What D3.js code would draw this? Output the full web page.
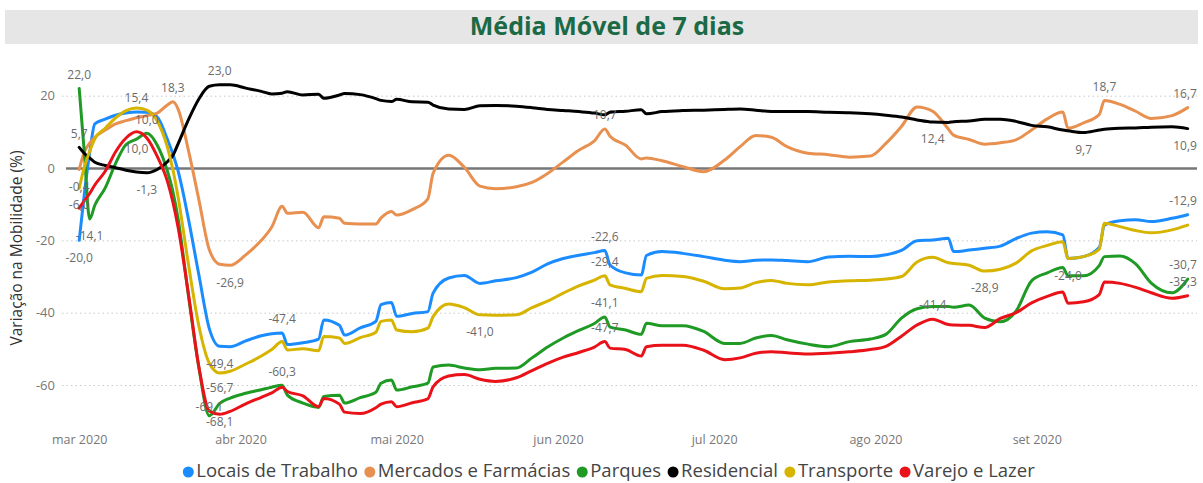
<!DOCTYPE html>
<html>
<head>
<meta charset="utf-8">
<script src="https://cdn.jsdelivr.net/npm/d3@7"></script>
<style>
  body { margin: 0; background: #fff; }
  text { font-family: "Segoe UI", "Open Sans", sans-serif; }
</style>
</head>
<body>
<svg id="chart" width="1203" height="483"></svg>
<script>
const dates = [
  "2020-03-01","2020-03-02","2020-03-03","2020-03-04","2020-03-06","2020-03-08","2020-03-10","2020-03-12","2020-03-14","2020-03-16",
  "2020-03-18","2020-03-19","2020-03-20","2020-03-22","2020-03-24","2020-03-26","2020-03-28","2020-03-30","2020-04-02","2020-04-05",
  "2020-04-07","2020-04-09","2020-04-10","2020-04-13","2020-04-16","2020-04-17","2020-04-20","2020-04-21","2020-04-24","2020-04-27",
  "2020-04-28","2020-04-30","2020-05-01","2020-05-04","2020-05-07","2020-05-08","2020-05-11","2020-05-14","2020-05-17","2020-05-20",
  "2020-05-24","2020-05-27","2020-05-30","2020-06-02","2020-06-05","2020-06-08","2020-06-10","2020-06-11","2020-06-14","2020-06-17",
  "2020-06-18","2020-06-21","2020-06-25","2020-06-29","2020-07-03","2020-07-06","2020-07-09","2020-07-12","2020-07-15","2020-07-19",
  "2020-07-23","2020-07-27","2020-07-31","2020-08-03","2020-08-06","2020-08-09","2020-08-12","2020-08-15","2020-08-16","2020-08-19",
  "2020-08-22","2020-08-25","2020-08-28","2020-08-31","2020-09-03","2020-09-06","2020-09-07","2020-09-10","2020-09-13","2020-09-14",
  "2020-09-17","2020-09-20","2020-09-23","2020-09-27","2020-09-30"
]

const locaisTrabalho = [
  -20.0,-7.0,4.0,12.2,13.5,14.6,15.2,15.5,15.4,14.1,
  7.7,3.9,-0.8,-14.2,-29.6,-44.4,-49.3,-49.4,-47.8,-46.4,
  -45.8,-45.6,-48.8,-48.3,-47.3,-42.0,-43.5,-46.2,-44.2,-42.4,
  -37.8,-37.2,-41.0,-40.2,-39.7,-34.6,-30.4,-29.7,-31.9,-31.2,
  -30.3,-28.8,-26.5,-25.0,-24.1,-23.4,-22.8,-26.8,-29.0,-29.6,
  -24.2,-23.1,-23.6,-24.5,-25.5,-25.9,-25.5,-25.4,-25.6,-25.9,
  -24.6,-24.4,-24.5,-24.0,-22.8,-20.1,-19.9,-19.4,-23.1,-22.7,
  -22.2,-21.6,-19.5,-18.0,-17.6,-18.5,-25.0,-24.5,-22.0,-15.8,
  -14.6,-14.3,-14.8,-13.9,-12.9
]

const mercadosFarmacias = [
  -0.4,4.5,6.9,8.5,10.5,12.2,13.1,13.9,14.5,15.2,
  17.5,18.3,16.3,4.8,-8.8,-22.6,-26.6,-26.9,-24.0,-20.0,
  -16.3,-10.6,-12.5,-12.2,-16.5,-13.5,-13.9,-15.3,-15.5,-15.5,
  -13.8,-12.0,-13.0,-11.5,-8.5,-1.5,3.5,0.2,-5.0,-5.7,
  -5.2,-4.0,-1.5,1.7,4.9,7.5,10.8,8.8,6.3,2.5,
  2.8,2.0,0.4,-1.0,2.2,5.9,9.0,8.5,5.9,4.1,
  3.7,3.0,3.3,6.8,11.5,16.9,15.7,10.8,9.1,7.9,
  6.6,7.0,7.8,10.5,13.6,15.5,11.0,12.5,14.8,18.7,
  17.6,15.7,13.7,14.5,16.7
]

const parques = [
  22.0,4.0,-14.1,-10.3,-5.5,1.3,6.5,8.0,9.6,6.3,
  -1.1,-6.5,-14.0,-35.4,-55.2,-68.5,-65.1,-63.6,-62.3,-61.3,
  -60.6,-60.1,-62.8,-65.0,-66.2,-63.2,-62.8,-65.0,-63.5,-62.0,
  -59.5,-58.6,-61.4,-60.5,-59.5,-55.0,-54.5,-55.3,-55.8,-55.4,
  -55.3,-52.5,-49.5,-47.0,-44.9,-43.0,-41.2,-44.0,-44.8,-46.0,
  -42.9,-43.6,-43.6,-45.2,-48.5,-48.5,-47.0,-46.3,-47.5,-48.7,
  -49.4,-48.0,-47.3,-46.0,-41.5,-38.9,-38.3,-38.3,-38.5,-37.9,
  -41.5,-42.5,-39.6,-31.2,-29.0,-27.5,-29.8,-29.8,-27.0,-24.5,
  -24.3,-26.5,-31.8,-34.5,-30.7
]

const residencial = [
  5.7,4.0,2.8,1.6,0.7,0.1,-0.6,-1.1,-1.3,-0.4,
  1.8,3.5,6.7,13.4,19.1,22.6,23.0,23.0,22.1,21.2,
  20.5,20.7,21.1,20.2,20.4,19.3,20.2,20.6,20.3,19.2,
  18.7,18.4,19.0,18.3,18.2,17.4,16.3,16.2,17.2,17.3,
  17.1,16.7,16.2,15.9,15.6,15.2,14.7,15.4,15.7,16.1,
  15.0,15.6,15.9,16.0,16.2,16.3,16.0,15.6,15.6,15.6,
  15.4,15.3,15.0,14.6,14.1,13.3,12.7,12.6,12.8,13.0,
  13.5,13.5,12.9,11.8,11.4,10.5,10.3,9.8,10.5,10.7,
  11.0,11.1,11.3,11.4,10.9
]

const transporte = [
  -5.6,0.3,4.6,8.1,11.0,13.9,15.9,16.6,16.0,13.0,
  5.5,-0.4,-8.0,-26.7,-43.7,-54.0,-56.7,-56.2,-54.2,-52.0,
  -50.2,-48.0,-50.3,-50.0,-50.5,-46.6,-47.0,-48.5,-46.9,-45.4,
  -42.4,-42.0,-44.8,-45.3,-44.3,-41.1,-37.6,-38.6,-40.6,-40.7,
  -40.6,-38.6,-36.8,-34.6,-32.6,-31.0,-29.8,-32.3,-33.3,-34.2,
  -30.5,-29.7,-30.0,-31.3,-33.4,-33.2,-31.7,-31.1,-31.9,-32.3,
  -31.5,-31.2,-31.0,-30.7,-30.0,-26.0,-24.7,-26.2,-26.4,-26.9,
  -28.5,-28.0,-26.3,-22.9,-21.4,-20.4,-25.0,-24.5,-22.5,-15.3,
  -16.2,-17.3,-17.9,-17.1,-15.8
]

const varejoLazer = [
  -11.1,-9.0,-7.1,-4.7,-0.9,4.5,8.3,10.0,8.3,3.2,
  -3.9,-9.4,-16.4,-34.9,-55.0,-67.2,-68.1,-67.3,-65.2,-63.4,
  -62.2,-60.6,-61.8,-63.0,-66.0,-63.7,-65.3,-67.5,-67.9,-66.3,
  -65.3,-64.6,-66.0,-64.9,-63.8,-60.5,-57.5,-57.1,-58.4,-59.0,
  -58.0,-56.0,-54.0,-52.3,-51.0,-49.5,-48.0,-49.8,-50.2,-52.0,
  -49.4,-49.0,-49.0,-50.4,-53.0,-52.5,-51.2,-50.8,-51.1,-51.4,
  -51.2,-50.8,-50.2,-49.3,-46.5,-43.4,-41.8,-43.3,-43.4,-43.5,
  -44.1,-41.6,-40.0,-37.3,-35.5,-34.3,-37.4,-37.0,-35.0,-31.5,
  -31.9,-33.0,-34.5,-36.0,-35.3
]

const yTicks = [20, 0, -20, -40, -60]
const monthTicks = ["2020-03-01","2020-04-01","2020-05-01","2020-06-01","2020-07-01","2020-08-01","2020-09-01"]
const monthLabels = ["mar 2020","abr 2020","mai 2020","jun 2020","jul 2020","ago 2020","set 2020"]

// data labels shown on the lines: [series, date, text, side]
const pointLabels = [
  ["Parques", "2020-03-01", "22,0", "above"],
  ["Residencial", "2020-03-01", "5,7", "above"],
  ["Mercados e Farmácias", "2020-03-01", "-0,4", "below"],
  ["Transporte", "2020-03-01", "-6,0", "below"],
  ["Parques", "2020-03-03", "-14,1", "below"],
  ["Locais de Trabalho", "2020-03-01", "-20,0", "below"],
  ["Locais de Trabalho", "2020-03-12", "15,4", "above"],
  ["Varejo e Lazer", "2020-03-12", "10,0", "below"],
  ["Parques", "2020-03-14", "10,0", "above"],
  ["Mercados e Farmácias", "2020-03-19", "18,3", "above"],
  ["Residencial", "2020-03-14", "-1,3", "below"],
  ["Residencial", "2020-03-28", "23,0", "above"],
  ["Mercados e Farmácias", "2020-03-30", "-26,9", "below"],
  ["Locais de Trabalho", "2020-03-28", "-49,4", "below"],
  ["Transporte", "2020-03-28", "-56,7", "close"],
  ["Parques", "2020-03-26", "-69,1", "near"],
  ["Varejo e Lazer", "2020-03-28", "-68,1", "under"],
  ["Locais de Trabalho", "2020-04-09", "-47,4", "above"],
  ["Parques", "2020-04-09", "-60,3", "above"],
  ["Transporte", "2020-05-17", "-41,0", "below"],
  ["Locais de Trabalho", "2020-06-10", "-22,6", "above"],
  ["Transporte", "2020-06-10", "-29,4", "above"],
  ["Parques", "2020-06-10", "-41,1", "above"],
  ["Varejo e Lazer", "2020-06-10", "-47,7", "above"],
  ["Mercados e Farmácias", "2020-06-10", "10,7", "above"],
  ["Residencial", "2020-08-12", "12,4", "below"],
  ["Varejo e Lazer", "2020-08-12", "-41,4", "above"],
  ["Transporte", "2020-08-22", "-28,9", "below"],
  ["Transporte", "2020-09-07", "-24,0", "below"],
  ["Mercados e Farmácias", "2020-09-14", "18,7", "above"],
  ["Residencial", "2020-09-10", "9,7", "below"],
  ["Mercados e Farmácias", "2020-09-30", "16,7", "above"],
  ["Residencial", "2020-09-30", "10,9", "below"],
  ["Locais de Trabalho", "2020-09-30", "-12,9", "above"],
  ["Parques", "2020-09-30", "-30,7", "above"],
  ["Varejo e Lazer", "2020-09-30", "-35,3", "above"]
]

const series = [
  { name: "Locais de Trabalho", values: locaisTrabalho, color: "#1a8cff" },
  { name: "Mercados e Farmácias", values: mercadosFarmacias, color: "#e8904f" },
  { name: "Parques", values: parques, color: "#1f9a24" },
  { name: "Residencial", values: residencial, color: "#000000" },
  { name: "Transporte", values: transporte, color: "#d6b400" },
  { name: "Varejo e Lazer", values: varejoLazer, color: "#ea1219" }
]

const plotLeft = 62
const plotRight = 1197
const labelShift = { above: -13, below: 18, close: 15.5, near: -8, under: 9 }

const parse = d3.utcParse("%Y-%m-%d")
const svg = d3.select("#chart")

// Title bar
svg.append("rect")
  .attr("x", 5).attr("y", 10)
  .attr("width", 1193).attr("height", 34)
  .attr("fill", "#e6e6e6")

svg.append("text")
  .attr("x", 607).attr("y", 28)
  .attr("text-anchor", "middle")
  .attr("dominant-baseline", "middle")
  .attr("font-size", "25px")
  .attr("font-weight", "bold")
  .attr("fill", "#1b6a45")
  .text("Média Móvel de 7 dias")

// Scales
const x = d3.scaleUtc()
  .domain([parse("2020-03-01"), parse("2020-09-30")])
  .range([79.2, 1187.7])

const y = d3.scaleLinear()
  .domain([-60, 20])
  .range([385, 95.7])

// Y axis + gridlines
const yAxis = svg.append("g")
  .attr("transform", `translate(${plotLeft},0)`)
  .call(d3.axisLeft(y)
    .tickValues(yTicks)
    .tickSize(-(plotRight - plotLeft))
    .tickPadding(7)
    .tickFormat(d => d))

yAxis.select(".domain").remove()
yAxis.selectAll(".tick line")
  .attr("stroke", "#c9c9c9")
  .attr("stroke-width", 1)
  .attr("stroke-dasharray", "1.5,3")
yAxis.selectAll(".tick")
  .filter(d => d === 0)
  .select("line")
  .attr("x1", 4)
  .attr("stroke", "#777")
  .attr("stroke-width", 2.5)
  .attr("stroke-dasharray", null)
yAxis.selectAll(".tick text")
  .attr("fill", "#777")
  .attr("font-size", "13px")
  .attr("font-family", "'Segoe UI', 'Open Sans', sans-serif")

// Y axis label
svg.append("text")
  .attr("transform", "rotate(-90)")
  .attr("x", -248)
  .attr("y", 18)
  .attr("text-anchor", "middle")
  .attr("dominant-baseline", "middle")
  .attr("font-size", "15.5px")
  .attr("fill", "#333")
  .text("Variação na Mobilidade (%)")

// X axis
const xAxis = svg.append("g")
  .attr("transform", "translate(0,429)")
  .call(d3.axisBottom(x)
    .tickValues(monthTicks.map(parse))
    .tickSize(0)
    .tickPadding(6)
    .tickFormat((d, i) => monthLabels[i]))

xAxis.select(".domain").remove()
xAxis.selectAll(".tick text")
  .attr("fill", "#777")
  .attr("font-size", "12.5px")
  .attr("font-family", "'Segoe UI', 'Open Sans', sans-serif")

// Lines
const line = d3.line()
  .x((d, i) => x(parse(dates[i])))
  .y(d => y(d))
  .curve(d3.curveMonotoneX)

svg.append("g")
  .selectAll("path")
  .data(series)
  .enter()
  .append("path")
  .attr("d", d => line(d.values))
  .attr("fill", "none")
  .attr("stroke", d => d.color)
  .attr("stroke-width", 3)
  .attr("stroke-linejoin", "round")
  .attr("stroke-linecap", "round")

// Data labels
const labelG = svg.append("g")
pointLabels.forEach(([name, date, label, side]) => {
  const s = series.find(s => s.name === name)
  const i = dates.indexOf(date)
  const px = x(parse(date))
  const py = y(s.values[i]) + labelShift[side]
  const t = labelG.append("text")
    .attr("x", px)
    .attr("y", py)
    .attr("text-anchor", "middle")
    .attr("dominant-baseline", "middle")
    .attr("font-size", "12px")
    .attr("fill", "#6b6b6b")
    .text(label)
  const box = t.node().getBBox()
  if (box.x + box.width > plotRight) {
    t.attr("x", px - (box.x + box.width - plotRight))
  }
})

// Legend
const legend = svg.append("g")
let offset = 0
series.forEach(s => {
  const item = legend.append("g").attr("transform", `translate(${offset},0)`)
  item.append("circle")
    .attr("cx", 5).attr("cy", 0).attr("r", 5.5)
    .attr("fill", s.color)
  const t = item.append("text")
    .attr("x", 13)
    .attr("y", 0)
    .attr("dominant-baseline", "middle")
    .attr("font-size", "18.5px")
    .attr("fill", "#444")
    .text(s.name)
  offset += 13 + t.node().getComputedTextLength() + 7
})
const legendWidth = offset - 7
legend.attr("transform", `translate(${609 - legendWidth / 2},472)`)
</script>
</body>
</html>
